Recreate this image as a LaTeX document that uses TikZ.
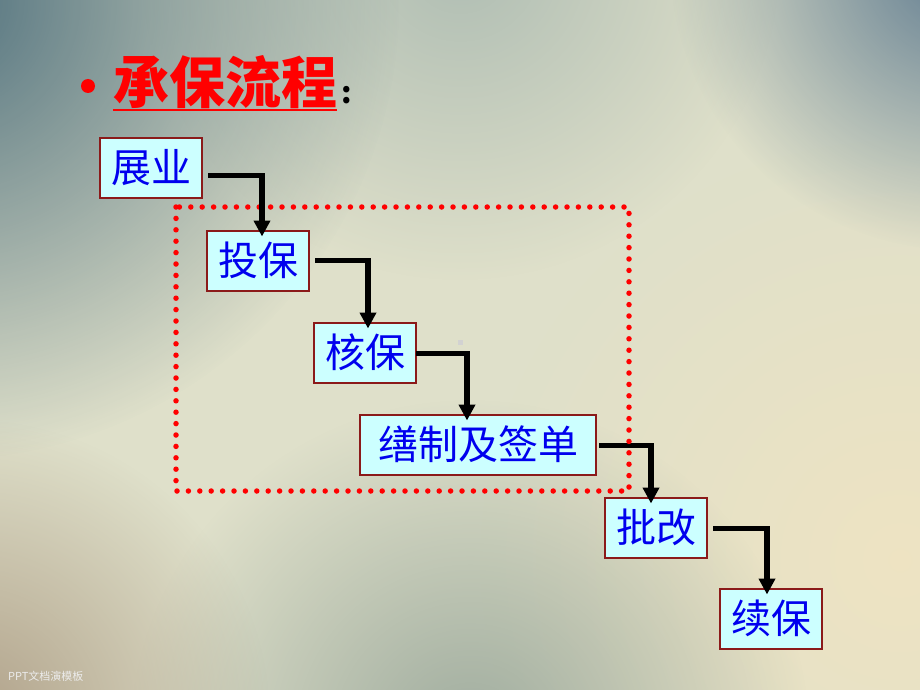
\documentclass[tikz,border=0pt]{standalone}
\usepackage{fontspec}
\newfontfamily\cjk{Noto Sans CJK SC}
\usepackage{xcolor}
\definecolor{boxFill}{HTML}{CCFFFF}
\definecolor{boxLine}{HTML}{8B1A1A}
\definecolor{stepText}{HTML}{0000EE}
\definecolor{bgBase}{HTML}{DFE0CA}
\definecolor{bgTeal}{HTML}{426676}
\definecolor{bgBlue}{HTML}{52718A}
\definecolor{bgSage}{HTML}{8FA6A4}
\definecolor{bgGrey}{HTML}{84968C}
\definecolor{bgBrown}{HTML}{A8967E}
\definecolor{bgCream}{HTML}{F0E4C2}
\usetikzlibrary{positioning,arrows.meta,fadings}
\tikzfading[name=softFade, inner color=transparent!0, outer color=transparent!100]
\tikzset{%
  stepBox/.style={%
    rectangle,
    draw=boxLine,
    line width=2pt,
    fill=boxFill,
    text=stepText,
    font=\cjk\fontsize{40}{44}\selectfont,
    minimum width=102pt,
    minimum height=60pt,
    inner sep=0pt
  },
  flowArrow/.style={%
    -{Triangle[length=16pt,width=16pt]},
    line width=5.5pt,
    color=black
  },
  dotFrame/.style={%
    draw=red,
    line width=5.5pt,
    line cap=round,
    dash pattern=on 0pt off 11.4pt
  },
  blob/.style={%
    fill=#1,
    path fading=softFade
  }
}

\begin{document}
\begin{tikzpicture}[x=1pt,y=-1pt]
  \useasboundingbox (0,0) rectangle (920,690);
  % background
  \begin{scope}
    \clip (0,0) rectangle (920,690);
    \fill[bgBase] (0,0) rectangle (920,690);
    \fill[blob=bgCream, fill opacity=0.9] (900,560) circle (420);
    \fill[blob=bgSage, fill opacity=0.6] (460,-40) circle (320);
    \fill[blob=bgTeal, fill opacity=0.9] (-60,0) circle (460);
    \fill[blob=bgBlue, fill opacity=0.9] (960,-40) circle (290);
    \fill[blob=bgGrey, fill opacity=0.7] (470,740) circle (340);
    \fill[blob=bgBrown, fill opacity=0.85] (-30,720) circle (300);
    \fill[gray!35] (458,340) rectangle (463,345);
  \end{scope}

  % title
  \node[circle, fill=red, minimum size=14pt, inner sep=0pt] (bullet) at (88,86) {};
  \node[anchor=base west, text=red, inner sep=0pt,
        font=\cjk\bfseries\fontsize{56}{60}\selectfont] (title) at (113,104) {承保流程};
  \draw[red, line width=2.5pt] ([yshift=-6pt]title.base west) -- ([yshift=-6pt]title.base east);
  \node[anchor=base west, inner sep=0pt, font=\cjk\bfseries\fontsize{30}{32}\selectfont,
        xshift=4pt] (colon) at (title.base east) {:};

  % steps
  \node[stepBox] (zhanye) at (151,167.5) {展业};
  \node[stepBox, below right=31pt and 3pt of zhanye] (toubao) {投保};
  \node[stepBox, below right=30pt and 3pt of toubao] (hebao) {核保};
  \node[stepBox, minimum width=236pt, below right=30pt and -58pt of hebao] (shanzhi) {缮制及签单};
  \node[stepBox, below right=21pt and 7pt of shanzhi] (pigai) {批改};
  \node[stepBox, below right=29pt and 11pt of pigai] (xubao) {续保};

  \draw[flowArrow] ([xshift=5pt]toubao.east) -| ([xshift=3pt,yshift=-7pt]hebao.north);
  \draw[flowArrow] ([xshift=-1pt,yshift=-1pt]hebao.east) -| ([xshift=-11pt,yshift=-7pt]shanzhi.north);
  \draw[flowArrow] ([xshift=2pt,yshift=-1pt]shanzhi.east) -| ([xshift=-5pt,yshift=-7pt]pigai.north);
  \draw[flowArrow] ([xshift=5pt,yshift=-1pt]pigai.east) -| ([xshift=-4pt,yshift=-7pt]xubao.north);

  % underwriting part
  \draw[dotFrame] (176,207) rectangle (629,491);

  \draw[flowArrow] ([xshift=5pt,yshift=-8pt]zhanye.east) -| ([xshift=4pt,yshift=-7pt]toubao.north);

  \node[anchor=base west, inner sep=0pt, text=white!85!gray,
        font=\cjk\fontsize{11}{12}\selectfont] (footer) at (8,680) {PPT文档演模板};
\end{tikzpicture}
\end{document}
